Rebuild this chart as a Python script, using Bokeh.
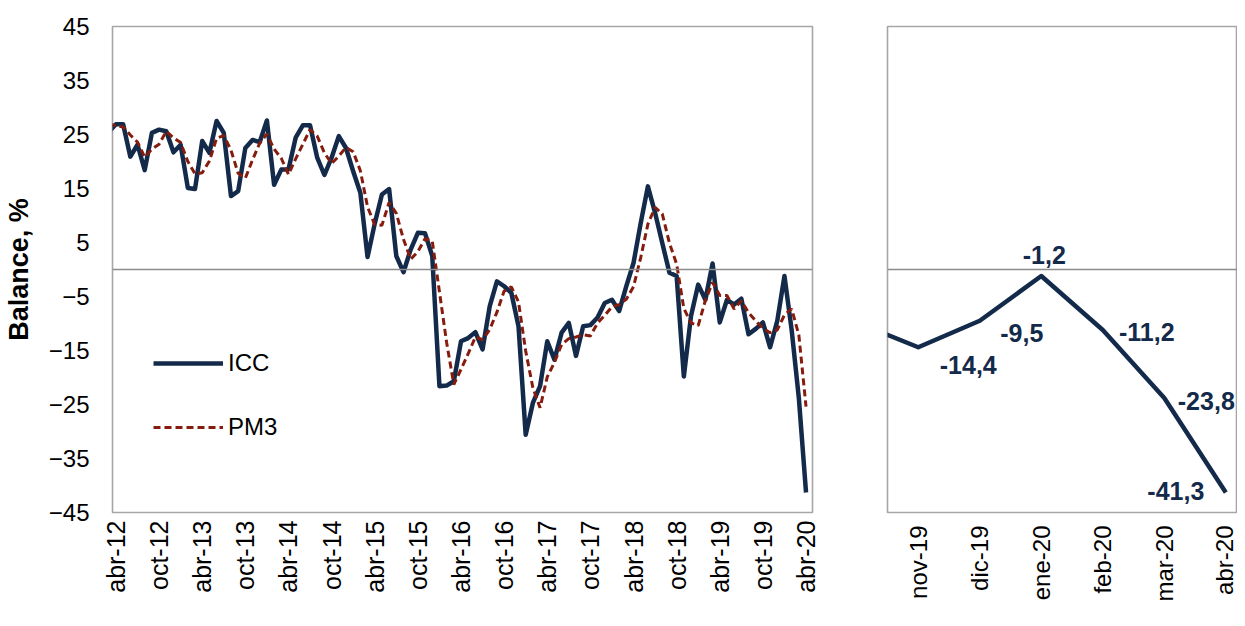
from math import pi
from bokeh.plotting import figure
from bokeh.models import (FixedTicker, Span, Legend, LegendItem, LabelSet,
                          ColumnDataSource, Range1d)
from bokeh.layouts import row
from bokeh.core.properties import value
from bokeh.embed import file_html
from bokeh.resources import INLINE

FONT = "Liberation Sans"
NAVY = "#132a4a"
RED = "#861c0e"
FRAME = "#a6a6a6"
ZERO = "#8c8c8c"

# ---------------- data ----------------
month_abbr = ["ene", "feb", "mar", "abr", "may", "jun",
              "jul", "ago", "sep", "oct", "nov", "dic"]
# monthly series from mar-12 to abr-20 (mar-12 is just outside the left edge)
months = [f"{month_abbr[(2 + k) % 12]}-{12 + (2 + k) // 12}" for k in range(98)]
month_pos = list(range(-1, 97))

icc = [25.5, 26.9, 26.9, 20.9, 23.1, 18.4, 25.3, 25.9, 25.6, 21.7,
       23.1, 15.1, 14.9, 23.8, 21.6, 27.5, 25.3, 13.6, 14.5, 22.5,
       24.0, 23.6, 27.6, 15.7, 18.5, 18.5, 24.4, 26.7, 26.7, 20.7,
       17.5, 20.7, 24.7, 22.5, 18.2, 14.2, 2.3, 8.5, 13.9, 14.9,
       2.5, -0.5, 3.7, 6.8, 6.7, 2.5, -21.6, -21.5, -20.7, -13.3,
       -12.7, -11.6, -14.8, -6.8, -2.2, -3.1, -4.3, -10.5, -30.6, -24.7,
       -21.6, -13.3, -16.7, -11.7, -9.9, -16.0, -10.5, -10.3, -8.9, -6.2,
       -5.6, -7.7, -3.1, 1.2, 8.6, 15.4, 10.5, 4.9, -0.6, -1.2,
       -19.8, -8.6, -2.8, -5.6, 1.1, -9.8, -5.6, -6.5, -5.4, -12.0,
       -11.0, -9.8, -14.4, -9.5, -1.2, -11.2, -23.8, -41.3]

pm3 = [27.0, 26.6, 26.4, 24.9, 23.6, 20.8, 22.3, 23.2, 25.6, 24.4,
       23.5, 20.0, 17.7, 17.9, 20.1, 24.3, 24.8, 22.1, 17.8, 16.9,
       20.3, 23.4, 25.1, 22.3, 20.6, 17.6, 20.5, 23.2, 25.9, 24.7,
       21.6, 19.6, 21.0, 22.6, 21.8, 18.3, 11.6, 8.3, 8.2, 12.4,
       10.4, 5.6, 1.9, 3.3, 5.7, 5.3, -4.1, -13.5, -21.3, -18.5,
       -15.6, -12.5, -13.0, -11.1, -7.9, -4.0, -3.2, -6.0, -15.1, -21.9,
       -25.6, -19.9, -17.2, -13.9, -12.8, -12.5, -12.1, -12.3, -9.9, -8.5,
       -6.9, -6.5, -5.5, -3.2, 2.2, 8.4, 11.5, 10.3, 4.9, 1.0,
       -7.2, -9.9, -10.4, -5.7, -2.4, -4.8, -4.8, -7.3, -5.8, -8.0,
       -9.5, -10.9, -11.7, -11.2, -8.4, -7.3, -12.1, -25.4]

left_tick_pos = list(range(0, 97, 6))
left_tick_labels = ["abr-12", "oct-12", "abr-13", "oct-13", "abr-14", "oct-14",
                    "abr-15", "oct-15", "abr-16", "oct-16", "abr-17", "oct-17",
                    "abr-18", "oct-18", "abr-19", "oct-19", "abr-20"]
y_ticks = [-45, -35, -25, -15, -5, 5, 15, 25, 35, 45]

# right panel: last months (oct-19 sits just outside the left edge)
right_months = ["oct-19", "nov-19", "dic-19", "ene-20", "feb-20", "mar-20", "abr-20"]
right_pos = list(range(-1, 6))
right_vals = icc[-7:]

# label placement (screen px) for the labelled points nov-19 .. abr-20
lab_dx = [50, 42, 3, 44, 42, -50]
lab_dy = [-18, -12, 21, -2, -3, 2]

# ---------------- left panel ----------------
p1 = figure(width=850, height=618, x_range=Range1d(-0.48, 96.9),
            y_range=Range1d(-45, 45), output_backend="svg", toolbar_location=None,
            min_border_left=108, min_border_right=38, min_border_top=25,
            min_border_bottom=106, background_fill_color="white",
            border_fill_color="white")
p1.grid.visible = False
p1.outline_line_color = FRAME
p1.outline_line_width = 1.6

p1.add_layout(Span(location=0, dimension="width", line_color=ZERO, line_width=1.5))

r_icc = p1.line(month_pos, icc, line_color=NAVY, line_width=4.5, line_join="round")
r_pm3 = p1.line(month_pos, pm3, line_color=RED, line_width=3, line_dash="7 4")

p1.yaxis.ticker = FixedTicker(ticks=y_ticks)
p1.yaxis.axis_line_color = None
p1.yaxis.major_tick_line_color = None
p1.yaxis.major_tick_out = 0
p1.yaxis.major_tick_in = 0
p1.yaxis.minor_tick_line_color = None
p1.yaxis.minor_tick_out = 0
p1.yaxis.major_label_standoff = 23
p1.yaxis.major_label_text_font = FONT
p1.yaxis.major_label_text_font_size = "24px"
p1.yaxis.major_label_text_color = "black"
p1.yaxis.axis_label = "Balance, %"
p1.yaxis.axis_label_text_font = FONT
p1.yaxis.axis_label_text_font_style = "bold"
p1.yaxis.axis_label_text_font_size = "27px"
p1.yaxis.axis_label_text_color = "black"
p1.yaxis.axis_label_standoff = 12

p1.xaxis.ticker = FixedTicker(ticks=left_tick_pos)
p1.xaxis.major_label_overrides = dict(zip(left_tick_pos, left_tick_labels))
p1.xaxis.major_label_orientation = pi / 2
p1.xaxis.axis_line_color = None
p1.xaxis.major_tick_line_color = None
p1.xaxis.major_tick_out = 0
p1.xaxis.major_tick_in = 0
p1.xaxis.minor_tick_line_color = None
p1.xaxis.minor_tick_out = 0
p1.xaxis.major_label_standoff = 8
p1.xaxis.major_label_text_font = FONT
p1.xaxis.major_label_text_font_size = "25px"
p1.xaxis.major_label_text_color = "black"

legend = Legend(items=[LegendItem(label="ICC", renderers=[r_icc]),
                       LegendItem(label="PM3", renderers=[r_pm3])],
                location=(41, 71), glyph_width=70, glyph_height=28,
                label_height=28, spacing=36, padding=0, margin=0,
                label_standoff=5, background_fill_alpha=0,
                border_line_alpha=0, label_text_font=FONT,
                label_text_font_size="24px", label_text_color="black")
p1.add_layout(legend, "center")

# ---------------- right panel ----------------
p2 = figure(width=387, height=618, x_range=Range1d(-0.5, 5.19),
            y_range=Range1d(-45, 45), output_backend="svg", toolbar_location=None,
            min_border_left=37, min_border_right=0, min_border_top=26,
            min_border_bottom=91, background_fill_color="white",
            border_fill_color="white")
p2.grid.visible = False
p2.outline_line_color = FRAME
p2.outline_line_width = 1.6
p2.yaxis.visible = False

p2.add_layout(Span(location=0, dimension="width", line_color=ZERO, line_width=1.5))
p2.line(right_pos, right_vals, line_color=NAVY, line_width=4.5, line_join="round")

lab_src = ColumnDataSource(dict(
    x=right_pos[1:], y=right_vals[1:],
    text=[f"{v:.1f}".replace(".", ",") for v in right_vals[1:]],
    dx=lab_dx, dy=lab_dy))
p2.add_layout(LabelSet(x="x", y="y", text="text", source=lab_src,
                       x_offset="dx", y_offset="dy", text_align="center",
                       text_baseline="middle", text_font=value(FONT),
                       text_font_size="25px", text_font_style="bold",
                       text_color=NAVY))

p2.xaxis.ticker = FixedTicker(ticks=right_pos[1:])
p2.xaxis.major_label_overrides = dict(zip(right_pos[1:], right_months[1:]))
p2.xaxis.major_label_orientation = pi / 2
p2.xaxis.axis_line_color = None
p2.xaxis.major_tick_line_color = None
p2.xaxis.major_tick_out = 0
p2.xaxis.major_tick_in = 0
p2.xaxis.minor_tick_line_color = None
p2.xaxis.minor_tick_out = 0
p2.xaxis.major_label_standoff = 13
p2.xaxis.major_label_text_font = FONT
p2.xaxis.major_label_text_font_size = "24px"
p2.xaxis.major_label_text_color = "black"

layout = row(p1, p2)
open("out.html", "w").write(file_html(layout, INLINE))
